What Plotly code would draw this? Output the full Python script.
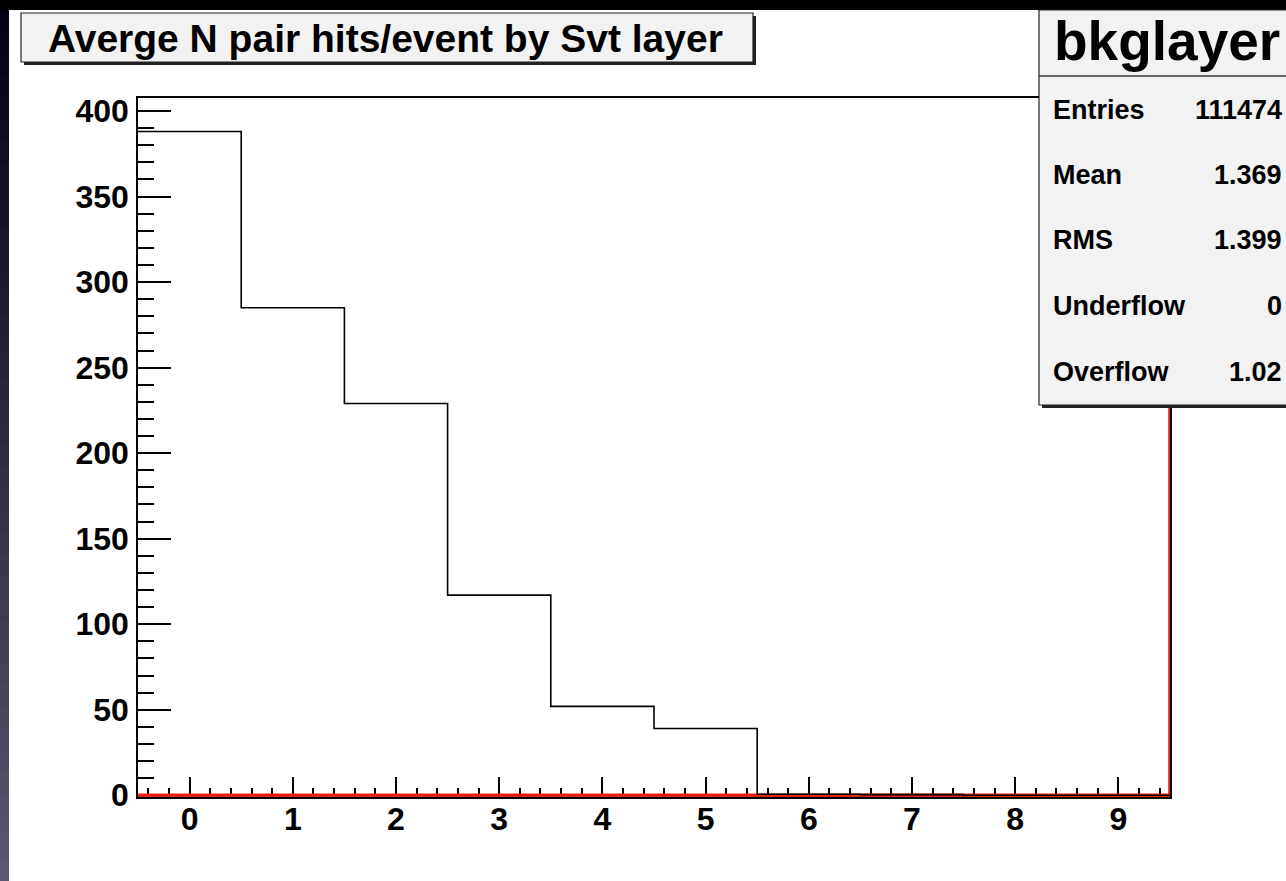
import numpy as np
import plotly.graph_objects as go

# ---------------- data ----------------
bin_centers = [0, 1, 2, 3, 4, 5, 6, 7, 8, 9]
hits_per_layer = [388, 285, 229, 117, 52, 39, 0.6, 0.4, 0, 0]
red_hist = [0, 0, 0, 0, 0, 0, 0, 0, 0, 0]
x_ticks = [0, 1, 2, 3, 4, 5, 6, 7, 8, 9]
y_ticks = [0, 50, 100, 150, 200, 250, 300, 350, 400]
title_text = "Averge N pair hits/event by Svt layer"
stats_name = "bkglayer"
stats_labels = ["Entries", "Mean", "RMS", "Underflow", "Overflow"]
stats_values = ["111474", "1.369", "1.399", "0", "1.02"]

X_RANGE = [-0.5, 9.5]
Y_RANGE = [-1, 407.6]

edges = [c - 0.5 for c in bin_centers] + [bin_centers[-1] + 0.5]

# ---------------- layout geometry (pixels) ----------------
W, H = 1286, 881
L, R, T, B = 138, 1170, 98, 797


def px(x):
    return (x - L) / (R - L)


def py(y):
    return (B - y) / (B - T)


fig = go.Figure()

# red histogram (drawn first, below black)
fig.add_trace(go.Scatter(
    x=edges + [edges[-1]],
    y=red_hist + [red_hist[-1], Y_RANGE[1]],
    mode="lines", line=dict(color="#e8200c", width=3.6, shape="hv"),
    hoverinfo="skip", showlegend=False))

# black histogram
fig.add_trace(go.Scatter(
    x=edges,
    y=hits_per_layer + [hits_per_layer[-1]],
    mode="lines", line=dict(color="black", width=1.6, shape="hv"),
    hoverinfo="skip", showlegend=False))

shapes = []
# white canvas
shapes.append(dict(type="rect", xref="paper", yref="paper", layer="below",
                   x0=px(9), x1=px(W + 5), y0=py(H + 5), y1=py(10),
                   fillcolor="white", line=dict(width=0)))
# left gradient strip
n = 40
top_c = np.array([2, 2, 20])
bot_c = np.array([88, 88, 110])
for i in range(n):
    y0 = 10 + (H - 10) * i / n
    y1 = 10 + (H - 10) * (i + 1) / n + 1
    c = top_c + (bot_c - top_c) * (i / (n - 1))
    shapes.append(dict(type="rect", xref="paper", yref="paper", layer="below",
                       x0=px(0), x1=px(9), y0=py(y1), y1=py(y0),
                       fillcolor="rgb(%d,%d,%d)" % tuple(c.astype(int)),
                       line=dict(width=0)))

# title box with shadow
tb = (21, 753, 13, 62)
shapes.append(dict(type="rect", xref="paper", yref="paper", layer="above",
                   x0=px(tb[0] + 3), x1=px(tb[1] + 3), y0=py(tb[3] + 3), y1=py(tb[2] + 3),
                   fillcolor="#222222", line=dict(width=0)))
shapes.append(dict(type="rect", xref="paper", yref="paper", layer="above",
                   x0=px(tb[0]), x1=px(tb[1]), y0=py(tb[3]), y1=py(tb[2]),
                   fillcolor="#f2f2f2", line=dict(color="#222222", width=1.2)))

# stats box with shadow
sb = (1039, 1295, 10, 405)
shapes.append(dict(type="rect", xref="paper", yref="paper", layer="above",
                   x0=px(sb[0] + 3), x1=px(sb[1] + 3), y0=py(sb[3] + 3), y1=py(sb[2] + 3),
                   fillcolor="#222222", line=dict(width=0)))
shapes.append(dict(type="rect", xref="paper", yref="paper", layer="above",
                   x0=px(sb[0]), x1=px(sb[1]), y0=py(sb[3]), y1=py(sb[2]),
                   fillcolor="#f2f2f2", line=dict(color="#222222", width=1.2)))
shapes.append(dict(type="line", xref="paper", yref="paper", layer="above",
                   x0=px(sb[0]), x1=px(sb[1]), y0=py(76), y1=py(76),
                   line=dict(color="#333333", width=1.5)))

FONT = "Liberation Sans, Arial"
annotations = []
annotations.append(dict(xref="paper", yref="paper", x=px((tb[0] + tb[1]) / 2 - 2), y=py(38),
                        text="<b>%s</b>" % title_text, showarrow=False,
                        xanchor="center", yanchor="middle",
                        font=dict(family=FONT, size=39, color="black")))
annotations.append(dict(xref="paper", yref="paper", x=px(1167), y=py(41),
                        text="<b>%s</b>" % stats_name, showarrow=False,
                        xanchor="center", yanchor="middle",
                        font=dict(family=FONT, size=55, color="black")))
row_y = [110, 175, 240, 306, 372]
for lab, val, yy in zip(stats_labels, stats_values, row_y):
    annotations.append(dict(xref="paper", yref="paper", x=px(1051), y=py(yy),
                            text="<b>%s</b>" % lab, showarrow=False,
                            xanchor="left", yanchor="middle",
                            font=dict(family=FONT, size=27, color="black")))
    annotations.append(dict(xref="paper", yref="paper", x=px(1284), y=py(yy),
                            text="<b>%s</b>" % val, showarrow=False,
                            xanchor="right", yanchor="middle",
                            font=dict(family=FONT, size=27, color="black")))

tickfont = dict(family=FONT, size=32, color="black", weight="bold")

fig.update_layout(
    width=W, height=H,
    margin=dict(l=L, r=W - R, t=T, b=H - B, pad=0),
    paper_bgcolor="black", plot_bgcolor="white",
    shapes=shapes, annotations=annotations,
    showlegend=False,
    xaxis=dict(range=X_RANGE, tickvals=x_ticks, ticktext=[str(v) for v in x_ticks],
               ticks="inside", ticklen=20, tickwidth=1.5, tickcolor="black",
               minor=dict(ticks="inside", ticklen=9, dtick=0.2, tick0=0, tickwidth=1.5, tickcolor="black"),
               showline=True, mirror=True, linecolor="black", linewidth=1.6, layer="below traces",
               showgrid=False, zeroline=False, tickfont=tickfont, ticklabelstandoff=-7),
    yaxis=dict(range=Y_RANGE, tickvals=y_ticks, ticktext=[str(v) for v in y_ticks],
               ticks="inside", ticklen=33, tickwidth=1.5, tickcolor="black",
               minor=dict(ticks="inside", ticklen=16, dtick=10, tick0=0, tickwidth=1.5, tickcolor="black"),
               showline=True, mirror=True, linecolor="black", linewidth=1.6, layer="below traces",
               showgrid=False, zeroline=False, tickfont=tickfont, ticklabelstandoff=1),
)

fig.write_html("out.html", config={"displayModeBar": False},
               post_script="document.body.style.margin='0';document.body.style.overflow='hidden';")
